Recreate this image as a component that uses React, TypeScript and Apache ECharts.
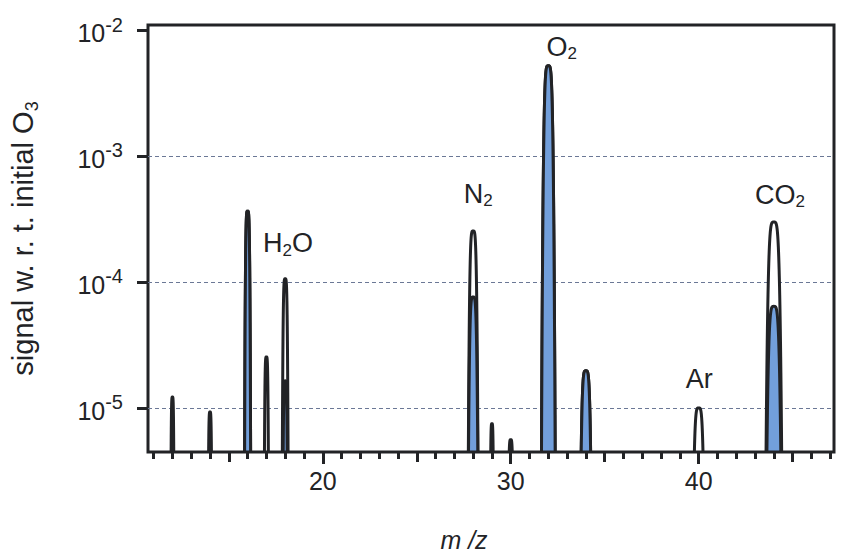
import React, { useEffect, useRef } from 'react';
import * as echarts from 'echarts';

// ---- axis ranges ----
const X_MIN = 10.7;
const X_MAX = 47.2;
const LOG_MIN = -5.35; // log10 of axis floor
const LOG_MAX = -1.96; // log10 of axis ceiling

// ---- spectrum 1 (outlined, white fill) ----
const peakMz = [12, 14, 16, 17, 18, 28, 29, 30, 32, 34, 40, 44];
const peakSignal = [1.22e-5, 9.3e-6, 3.65e-4, 2.54e-5, 1.06e-4, 2.54e-4, 7.5e-6, 5.6e-6, 5.2e-3, 1.97e-5, 1.0e-5, 2.99e-4];
const peakWidth = [0.07, 0.08, 0.11, 0.09, 0.114, 0.18, 0.075, 0.116, 0.223, 0.227, 0.242, 0.29];

// ---- spectrum 2 (blue fill) ----
const fillMz = [16, 18, 28, 32, 34, 44];
const fillSignal = [3.65e-4, 1.64e-5, 7.6e-5, 5.2e-3, 1.97e-5, 6.4e-5];
const fillWidth = [0.11, 0.1, 0.19, 0.223, 0.227, 0.29];

// ---- species annotations ----
const speciesLabels = ['H{sub|2}O', 'N{sub|2}', 'O{sub|2}', 'Ar', 'CO{sub|2}'];
const speciesMz = [18.15, 28.27, 32.72, 40.03, 44.32];
const speciesSignal = [2.02e-4, 5.0e-4, 7.4e-3, 1.71e-5, 4.94e-4];

// ---- ticks ----
const minorTicks = [11, 12, 13, 14, 15, 16, 17, 18, 19, 20, 21, 22, 23, 24, 25, 26, 27, 28, 29, 30, 31, 32, 33, 34, 35, 36, 37, 38, 39, 40, 41, 42, 43, 44, 45, 46, 47];
const mediumTicks = [15, 25, 35, 45];
const majorTicks = [20, 30, 40];
const decadeTicks = [-5, -4, -3, -2];
const gridDecades = [-5, -4, -3];

const INK = '#222326';
const BLUE = '#729fdb';
const GRID = '#6b7896';
const FONT = '"Liberation Sans", Arial, Helvetica, sans-serif';
const SHAPE_P = 4;

function makePeakRenderer(fill: string) {
  return (params: any, api: any) => {
    const mz = api.value(0);
    const top = api.value(1);
    const w = api.value(2);
    const depth = top - LOG_MIN;
    if (depth <= 0) return null;
    const half = w * Math.pow(depth / Math.LOG10E, 1 / SHAPE_P);
    const n = 80;
    const pts: number[][] = [];
    for (let i = 0; i <= n; i++) {
      const t = -1 + (2 * i) / n;
      const dx = half * t;
      const ly = top - Math.LOG10E * Math.pow(Math.abs(dx) / w, SHAPE_P);
      pts.push(api.coord([mz + dx, Math.max(ly, LOG_MIN)]));
    }
    return {
      type: 'polygon',
      shape: { points: pts },
      style: { fill, stroke: INK, lineWidth: 3, lineJoin: 'round' },
    };
  };
}

const tickLine = { color: INK, width: 3 };

const baseX = {
  type: 'value',
  min: X_MIN,
  max: X_MAX,
  position: 'bottom',
  offset: 0,
  axisLine: { show: false },
  splitLine: { show: false },
  axisLabel: { show: false },
};

export default function App() {
  const ref = useRef<HTMLDivElement>(null);
  useEffect(() => {
    if (!ref.current) return;
    const chart = echarts.init(ref.current, null, { renderer: 'svg' });
    const outlineData = peakMz.map((m, i) => [m, Math.log10(peakSignal[i]), peakWidth[i]]);
    const fillData = fillMz.map((m, i) => [m, Math.log10(fillSignal[i]), fillWidth[i]]);
    const labelData = speciesMz.map((m, i) => [m, Math.log10(speciesSignal[i])]);
    chart.setOption({
      animation: false,
      backgroundColor: '#ffffff',
      grid: {
        left: 148,
        right: 18,
        top: 25,
        bottom: 106,
        show: true,
        borderColor: INK,
        borderWidth: 3,
        backgroundColor: 'transparent',
        outerBoundsMode: 'none',
      },
      xAxis: [
        { ...baseX, axisTick: { show: true, customValues: minorTicks, length: 7, lineStyle: tickLine } },
        { ...baseX, axisTick: { show: true, customValues: mediumTicks, length: 10, lineStyle: tickLine } },
        {
          ...baseX,
          axisTick: { show: true, customValues: majorTicks, length: 12, lineStyle: tickLine },
          axisLabel: { show: true, customValues: majorTicks, margin: 16, fontSize: 25, color: INK, fontFamily: FONT },
          name: 'm /z',
          nameLocation: 'middle',
          nameGap: 75,
          nameTextStyle: { fontSize: 25, fontStyle: 'italic', color: INK, fontFamily: FONT, padding: [0, 54, 0, 0] },
        },
      ],
      yAxis: [
        {
          type: 'value',
          min: LOG_MIN,
          max: LOG_MAX,
          position: 'left',
          axisLine: { show: false },
          splitLine: { show: false },
          axisTick: { show: true, customValues: decadeTicks, length: 11, lineStyle: tickLine },
          axisLabel: {
            show: true,
            customValues: decadeTicks,
            margin: 25,
            formatter: (v: number) => `{b|10}{sup|${v}}`,
            rich: {
              b: { fontSize: 25, color: INK, fontFamily: FONT, padding: [6, 0, 0, 0] },
              sup: { fontSize: 20, color: INK, fontFamily: FONT, padding: [0, 0, 11, 0] },
            },
          },
          name: 'signal w. r. t. initial O{sub|3}',
          nameLocation: 'middle',
          nameGap: 107,
          nameTextStyle: {
            fontSize: 29,
            color: INK,
            fontFamily: FONT,
            rich: { sub: { fontSize: 18, color: INK, fontFamily: FONT, padding: [18, 0, 0, 0] } },
          },
        },
        {
          type: 'value',
          min: LOG_MIN,
          max: LOG_MAX,
          position: 'left',
          axisLine: { show: false },
          axisTick: { show: false, customValues: gridDecades },
          axisLabel: { show: false },
          splitLine: { show: true, lineStyle: { type: [4, 3], color: GRID, width: 1 } },
        },
      ],
      series: [
        {
          type: 'custom',
          name: 'total',
          xAxisIndex: 0,
          yAxisIndex: 0,
          z: 3,
          clip: true,
          silent: true,
          data: outlineData,
          encode: { x: 0, y: 1 },
          renderItem: makePeakRenderer('#ffffff'),
        },
        {
          type: 'custom',
          name: 'blue',
          xAxisIndex: 0,
          yAxisIndex: 0,
          z: 4,
          clip: true,
          silent: true,
          data: fillData,
          encode: { x: 0, y: 1 },
          renderItem: makePeakRenderer(BLUE),
        },
        {
          type: 'custom',
          name: 'labels',
          xAxisIndex: 0,
          yAxisIndex: 0,
          z: 5,
          silent: true,
          data: labelData,
          encode: { x: 0, y: 1 },
          renderItem: (params: any, api: any) => {
            const p = api.coord([api.value(0), api.value(1)]);
            return {
              type: 'text',
              x: p[0],
              y: p[1],
              style: {
                text: speciesLabels[params.dataIndex],
                fill: INK,
                fontSize: 27,
                fontFamily: FONT,
                align: 'center',
                verticalAlign: 'middle',
                rich: {
                  sub: { fontSize: 17, fill: INK, color: INK, fontFamily: FONT, padding: [14, 0, 0, 0] },
                },
              },
            };
          },
        },
      ],
    });
    return () => chart.dispose();
  }, []);
  return (
    <div
      ref={ref}
      style={{ position: 'fixed', left: 0, top: 0, width: 852, height: 558, background: '#ffffff' }}
    />
  );
}
